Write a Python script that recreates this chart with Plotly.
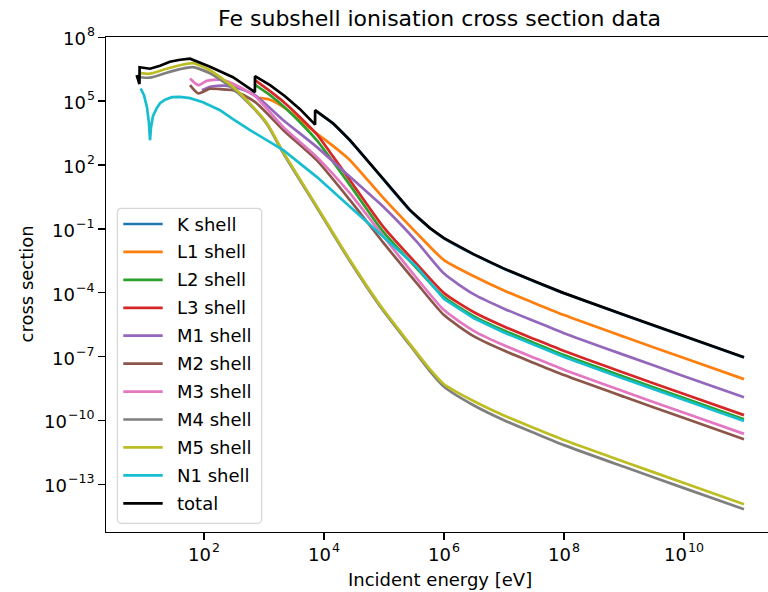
import math
import plotly.graph_objects as go

# ---------------- data ----------------
# energies in eV, cross sections in the chart's (arbitrary) units
K_E = [7112, 14290, 27100, 58500, 125900, 271000, 584800, 1e6, 3.16e6, 1e7, 3.16e7, 1e8, 1e9, 1e10, 1e11]
K_cs = [3.55e4, 8.51e3, 1.41e3, 115, 8.91, 0.741, 0.106, 0.0359, 6.17e-3, 1.32e-3, 3.47e-4, 9.33e-5, 8.91e-6, 8.91e-7, 9.12e-8]

L1_E = [846, 1000, 1259, 2239, 3981, 7551, 14290, 27100, 97300, 350800, 1e6, 3.16e6, 1e7, 3.16e7, 1e8, 1e9, 1e10, 1e11]
L1_cs = [1.41e5, 1.32e5, 1.16e5, 4.65e4, 1.27e4, 3.01e3, 764, 168, 2.82, 6.31e-2, 3.39e-3, 5.89e-4, 1.26e-4, 3.31e-5, 8.91e-6, 8.51e-7, 8.51e-8, 8.71e-9]

L2_E = [721, 1259, 2239, 3981, 7551, 14290, 27100, 97300, 350800, 1e6, 3.16e6, 1e7, 3.16e7, 1e8, 1e9, 1e10, 1e11]
L2_cs = [5.57e5, 1.89e5, 4.90e4, 1.02e4, 1.46e3, 135, 11.3, 7.23e-2, 1.41e-3, 6.21e-5, 7.76e-6, 1.66e-6, 4.37e-7, 1.17e-7, 1.12e-8, 1.12e-9, 1.15e-10]

L3_E = [708, 1259, 2239, 3981, 7551, 14290, 27100, 97300, 350800, 1e6, 3.16e6, 1e7, 3.16e7, 1e8, 1e9, 1e10, 1e11]
L3_cs = [9.57e5, 2.92e5, 7.96e4, 1.75e4, 2.79e3, 240, 19.3, 0.124, 2.24e-3, 9.55e-5, 1.20e-5, 2.57e-6, 6.76e-7, 1.82e-7, 1.74e-8, 1.74e-9, 1.78e-10]

M1_E = [92.7, 126, 224, 398, 708, 2099, 7551, 27100, 97300, 350800, 1e6, 3.16e6, 1e7, 3.16e7, 1e8, 1e9, 1e10, 1e11]
M1_cs = [3.25e5, 4.74e5, 5.28e5, 3.82e5, 1.89e5, 1.27e4, 708, 27.6, 1.08, 2.51e-2, 7.94e-4, 8.32e-5, 1.78e-5, 4.68e-6, 1.26e-6, 1.20e-7, 1.20e-8, 1.23e-9]

M2_E = [58.5, 80.4, 126, 185, 304, 708, 2099, 7551, 27100, 97300, 350800, 1e6, 3.16e6, 1e7, 3.16e7, 1e8, 1e9, 1e10, 1e11]
M2_cs = [5.57e5, 2.28e5, 3.82e5, 3.62e5, 3.25e5, 9.16e4, 4.31e3, 168, 2.22, 2.24e-2, 2.82e-4, 8.87e-6, 8.91e-7, 1.91e-7, 5.01e-8, 1.35e-8, 1.29e-9, 1.29e-10, 1.32e-11]

M3_E = [58.5, 80.4, 111, 185, 304, 708, 2099, 7551, 27100, 97300, 350800, 1e6, 3.16e6, 1e7, 3.16e7, 1e8, 1e9, 1e10, 1e11]
M3_cs = [1.15e6, 5.57e5, 8.87e5, 1.01e6, 6.56e5, 1.70e5, 5.96e3, 240, 4.59, 4.47e-2, 4.84e-4, 1.52e-5, 1.58e-6, 3.39e-7, 8.91e-8, 2.40e-8, 2.29e-9, 2.29e-10, 2.34e-11]

M4_E = [8.6, 12.6, 23.9, 39.8, 65.6, 126, 304, 656, 1122, 2099, 7551, 27100, 85700, 271000, 584800, 1e6, 3.16e6, 1e7, 3.16e7, 1e8, 1e9, 1e10, 1e11]
M4_cs = [1.32e6, 1.26e6, 2.15e6, 3.15e6, 3.91e6, 2.04e6, 3.82e5, 4.90e4, 8.22e3, 355, 1.04, 3.02e-3, 2.34e-5, 3.39e-7, 2.00e-8, 3.80e-9, 5.01e-10, 1.02e-10, 2.63e-11, 6.92e-12, 6.61e-13, 6.61e-14, 6.76e-15]

M5_E = [8.6, 12.6, 23.9, 39.8, 65.6, 126, 304, 656, 1122, 2099, 7551, 27100, 85700, 271000, 584800, 1e6, 3.16e6, 1e7, 3.16e7, 1e8, 1e9, 1e10, 1e11]
M5_cs = [2.04e6, 1.93e6, 3.32e6, 4.84e6, 6.01e6, 2.82e6, 4.65e5, 5.35e4, 9.12e3, 398, 1.16, 3.40e-3, 2.63e-5, 3.86e-7, 2.51e-8, 5.01e-9, 7.94e-10, 1.70e-10, 4.47e-11, 1.20e-11, 1.15e-12, 1.15e-13, 1.17e-14]

N1_E = [8.8, 10, 11.2, 12.1, 12.6, 13.1, 14.1, 16.3, 18.5, 22.4, 29.3, 39.8, 58.5, 96.2, 185, 304, 585, 1122, 2099, 7551, 27100, 97300, 350800, 1e6, 3.16e6, 1e7, 3.16e7, 1e8, 1e9, 1e10, 1e11]
N1_cs = [3.91e5, 1.89e5, 5.18e4, 9.16e3, 1.46e3, 5.96e3, 1.95e4, 4.65e4, 7.96e4, 1.16e5, 1.52e5, 1.57e5, 1.37e5, 8.87e4, 3.74e4, 1.41e4, 4.31e3, 1.46e3, 495, 27.6, 1.08, 4.21e-2, 1.64e-3, 5.01e-5, 6.31e-6, 1.35e-6, 3.55e-7, 9.55e-8, 9.12e-9, 9.12e-10, 9.33e-11]

total_E = [7.55, 8.4, 8.45, 12.6, 18.5, 27, 40, 58.5, 126, 304, 705, 708, 1260, 2240, 3980, 7100, 7112, 14290, 27100, 58500, 125900, 271000, 584800, 1e6, 3.16e6, 1e7, 3.16e7, 1e8, 1e9, 1e10, 1e11]
total_cs = [1.66e6, 6.31e5, 3.89e6, 3.31e6, 4.57e6, 7.08e6, 8.71e6, 9.77e6, 4.07e6, 1.32e6, 2.63e5, 1.48e6, 5.62e5, 1.70e5, 4.17e4, 7.8e3, 3.74e4, 8.87e3, 1.46e3, 117, 9.08, 0.755, 0.108, 0.0366, 6.31e-3, 1.35e-3, 3.55e-4, 9.55e-5, 9.12e-6, 9.12e-7, 9.33e-8]

series_names = ["K shell", "L1 shell", "L2 shell", "L3 shell", "M1 shell", "M2 shell",
                "M3 shell", "M4 shell", "M5 shell", "N1 shell", "total"]
series_E = [K_E, L1_E, L2_E, L3_E, M1_E, M2_E, M3_E, M4_E, M5_E, N1_E, total_E]
series_cs = [K_cs, L1_cs, L2_cs, L3_cs, M1_cs, M2_cs, M3_cs, M4_cs, M5_cs, N1_cs, total_cs]
series_colors = ["#1f77b4", "#ff7f0e", "#2ca02c", "#d62728", "#9467bd", "#8c564b",
                 "#e377c2", "#7f7f7f", "#bcbd22", "#17becf", "#000000"]
# series with sharp features (edges / cusp) keep straight segments
series_shape = ["spline", "spline", "spline", "spline", "spline", "spline",
                "spline", "spline", "spline", "linear", "linear"]

# tick labels: base "10" with a superscript exponent
x_tick_vals = [1e2, 1e4, 1e6, 1e8, 1e10]
x_tick_exp = ["2", "4", "6", "8", "10"]
y_tick_vals = [1e8, 1e5, 1e2, 1e-1, 1e-4, 1e-7, 1e-10, 1e-13]
y_tick_exp = ["8", "5", "2", "\u22121", "\u22124", "\u22127", "\u221210", "\u221213"]

title_text = "Fe subshell ionisation cross section data"
x_title = "Incident energy [eV]"
y_title = "cross section"

# ---------------- layout geometry (pixels) ----------------
W, H = 768, 592
ML, MR, MT, MB = 106, 0, 37, 60
PW = W - ML - MR
PH = H - MT - MB
FONT = "DejaVu Sans"
FS = 18          # labels, ticks, legend
FS_SUP = 12.6    # superscripts (70 %)
FS_TITLE = 22

# DejaVu Sans advance widths (em) for tick-label glyphs
ADV = {"0": 0.636, "1": 0.636, "2": 0.636, "3": 0.636, "4": 0.636, "5": 0.636,
       "6": 0.636, "7": 0.636, "8": 0.636, "9": 0.636, "\u2212": 0.838}


def tw(s, size):
    return sum(ADV.get(c, 0.6) for c in s) * size


def fx(px):
    return (px - ML) / PW


def fy(py):
    return (H - MB - py) / PH


fig = go.Figure()
for name, E, cs, col, shp in zip(series_names, series_E, series_cs, series_colors, series_shape):
    line = dict(color=col, width=2.7, shape=shp)
    if shp == "spline":
        line["smoothing"] = 0.6
    fig.add_trace(go.Scatter(x=E, y=cs, mode="lines", name=name, line=line,
                             showlegend=False, hoverinfo="skip"))

axis_common = dict(type="log", showgrid=False, zeroline=False, showline=True,
                   linecolor="black", linewidth=1.4, ticks="outside", ticklen=6.5,
                   tickwidth=1.4, tickcolor="black", automargin=False,
                   showticklabels=False)

fig.update_layout(
    width=W, height=H, autosize=False,
    margin=dict(l=ML, r=MR, t=MT, b=MB, pad=0),
    paper_bgcolor="white", plot_bgcolor="white",
    showlegend=False,
    xaxis=dict(range=[0.3667, 11.4], tickvals=x_tick_vals, mirror=True, **axis_common),
    yaxis=dict(range=[-15.24, 8.01], tickvals=y_tick_vals, mirror=False, **axis_common),
    font=dict(family=FONT, color="black", size=FS),
)


def ann(text, size, **kw):
    d = dict(text=text, showarrow=False, borderpad=0, borderwidth=0,
             font=dict(family=FONT, size=size, color="black"))
    d.update(kw)
    return d


annotations = [
    ann(title_text, FS_TITLE, x=fx(439.5), y=fy(18.4), xref="paper", yref="paper",
        xanchor="center", yanchor="middle"),
    ann(x_title, FS, x=fx(439.5), y=fy(579.5), xref="paper", yref="paper",
        xanchor="center", yanchor="middle"),
    ann(y_title, FS, x=fx(26), y=fy(284.5), xref="paper", yref="paper",
        xanchor="center", yanchor="middle", textangle=-90),
]

# x tick labels: "10" + superscript, centred on the tick
for v, e in zip(x_tick_vals, x_tick_exp):
    bw = tw("10", FS)
    sw = tw(e, FS_SUP)
    tot = bw + sw + 0.5
    annotations.append(ann("10", FS, xref="x", x=math.log10(v), yref="paper", y=fy(554),
                           xanchor="left", yanchor="middle", xshift=-tot / 2))
    annotations.append(ann(e, FS_SUP, xref="x", x=math.log10(v), yref="paper", y=fy(547),
                           xanchor="left", yanchor="middle", xshift=-tot / 2 + bw + 0.5))

# y tick labels: right-aligned next to the tick
for v, e in zip(y_tick_vals, y_tick_exp):
    sw = tw(e, FS_SUP)
    annotations.append(ann("10", FS, xref="paper", x=fx(94.5), yref="y", y=math.log10(v),
                           xanchor="right", yanchor="middle", xshift=-sw - 0.5, yshift=-1.5))
    annotations.append(ann(e, FS_SUP, xref="paper", x=fx(94.5), yref="y", y=math.log10(v),
                           xanchor="right", yanchor="middle", yshift=5.5))

# legend drawn manually (matplotlib style box)
bx0, by0, bx1, by1 = 117.3, 208.3, 261.7, 523.3
r = 4.5
rx, ry = r / PW, r / PH
X0, X1 = fx(bx0), fx(bx1)
Y0, Y1 = fy(by1), fy(by0)  # bottom, top in paper units
path = (f"M {X0+rx},{Y1} L {X1-rx},{Y1} Q {X1},{Y1} {X1},{Y1-ry} "
        f"L {X1},{Y0+ry} Q {X1},{Y0} {X1-rx},{Y0} "
        f"L {X0+rx},{Y0} Q {X0},{Y0} {X0},{Y0+ry} "
        f"L {X0},{Y1-ry} Q {X0},{Y1} {X0+rx},{Y1} Z")
shapes = [dict(type="path", path=path, xref="paper", yref="paper",
               line=dict(color="#d6d6d6", width=1.2),
               fillcolor="rgba(255,255,255,0.8)", layer="above")]

row0, row_step = 224.0, 27.93
for i, (name, col) in enumerate(zip(series_names, series_colors)):
    yy = row0 + i * row_step
    shapes.append(dict(type="line", xref="paper", yref="paper",
                       x0=fx(123.3), x1=fx(162.7), y0=fy(yy), y1=fy(yy),
                       line=dict(color=col, width=2.7), layer="above"))
    annotations.append(ann(name, FS, x=fx(176.7), y=fy(yy), xref="paper", yref="paper",
                           xanchor="left", yanchor="middle"))

fig.update_layout(annotations=annotations, shapes=shapes)

fig.write_html(
    "out.html",
    config={"displayModeBar": False, "staticPlot": True},
    post_script="document.body.style.margin='0';document.body.style.padding='0';"
                "document.body.style.overflow='hidden';",
)
